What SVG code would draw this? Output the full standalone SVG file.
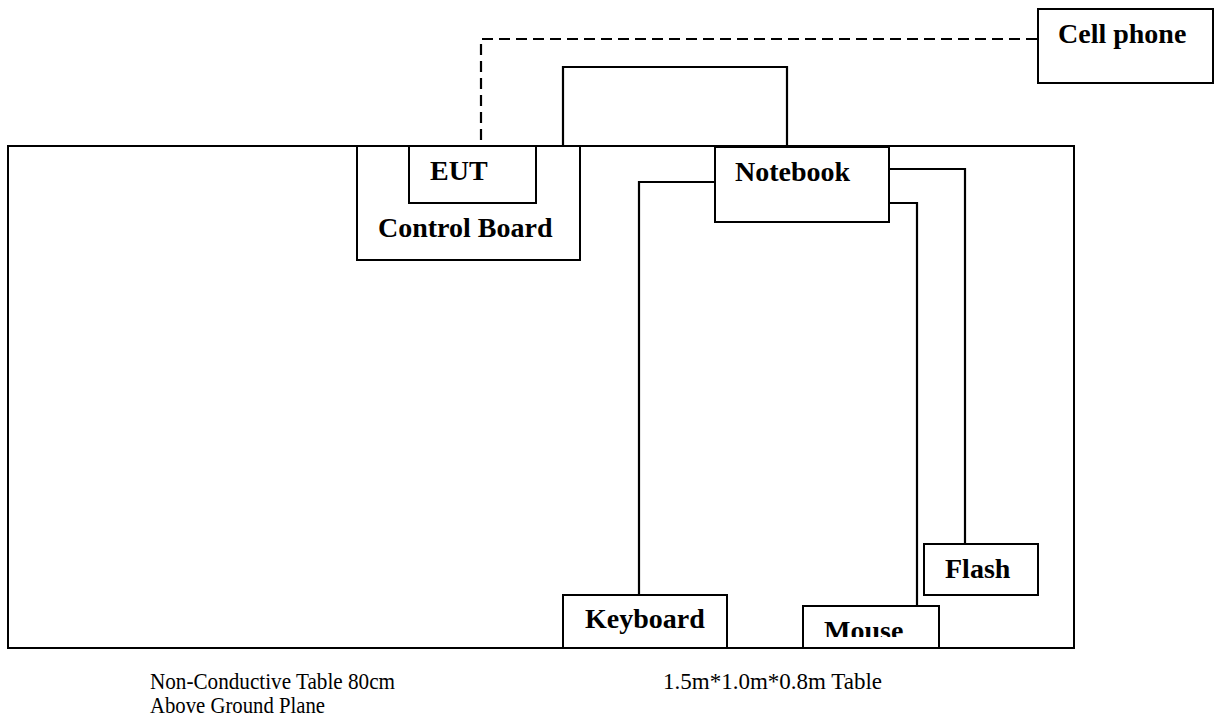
<svg xmlns="http://www.w3.org/2000/svg" width="1219" height="725" viewBox="0 0 1219 725">
<style>
.box{fill:#fff;stroke:#000;stroke-width:2}
.lbl{font-family:"Liberation Serif","Times New Roman",serif;font-weight:bold;font-size:28px;fill:#000}
.note{font-family:"Liberation Serif","Times New Roman",serif;font-size:24px;fill:#000}
.wire{fill:none;stroke:#000;stroke-width:2.2}
.dash{fill:none;stroke:#000;stroke-width:2.2;stroke-dasharray:11 6}
</style>
<defs>
<clipPath id="mclip"><rect x="800" y="600" width="145" height="37"/></clipPath>
</defs>
<rect width="1219" height="725" fill="#fff"/>
<g id="table">
<rect x="8" y="146" width="1066" height="502" fill="none" stroke="#000" stroke-width="2"/>
</g>
<g id="connectors">
<path class="dash" d="M481,140 V39 H1037"/>
<path class="wire" d="M563,146 V67 H787 V147"/>
<path class="wire" d="M715,182 H639 V595"/>
<path class="wire" d="M889,203 H917 V606"/>
<path class="wire" d="M889,169 H965 V544"/>
</g>
<g id="control-board">
<rect class="box" x="357" y="146" width="223" height="114"/>
<text class="lbl" x="378" y="237">Control Board</text>
</g>
<g id="eut">
<rect class="box" x="409" y="146" width="127" height="57"/>
<text class="lbl" x="430" y="180">EUT</text>
</g>
<g id="notebook">
<rect class="box" x="715" y="147" width="174" height="75"/>
<text class="lbl" x="735" y="181">Notebook</text>
</g>
<g id="cell-phone">
<rect class="box" x="1038" y="9" width="175" height="74"/>
<text class="lbl" x="1058" y="43">Cell phone</text>
</g>
<g id="keyboard">
<rect class="box" x="563" y="595" width="164" height="53"/>
<text class="lbl" x="585" y="628">Keyboard</text>
</g>
<g id="mouse">
<rect class="box" x="803" y="606" width="136" height="42"/>
<text class="lbl" x="824" y="640" clip-path="url(#mclip)">Mouse</text>
</g>
<g id="flash">
<rect class="box" x="924" y="544" width="114" height="51"/>
<text class="lbl" x="945" y="578">Flash</text>
</g>
<g id="notes">
<text class="note" x="150" y="689" textLength="245" lengthAdjust="spacingAndGlyphs">Non-Conductive Table 80cm</text>
<text class="note" x="150" y="713" textLength="175" lengthAdjust="spacingAndGlyphs">Above Ground Plane</text>
<text class="note" x="663" y="689" textLength="219" lengthAdjust="spacingAndGlyphs">1.5m*1.0m*0.8m Table</text>
</g>
</svg>
